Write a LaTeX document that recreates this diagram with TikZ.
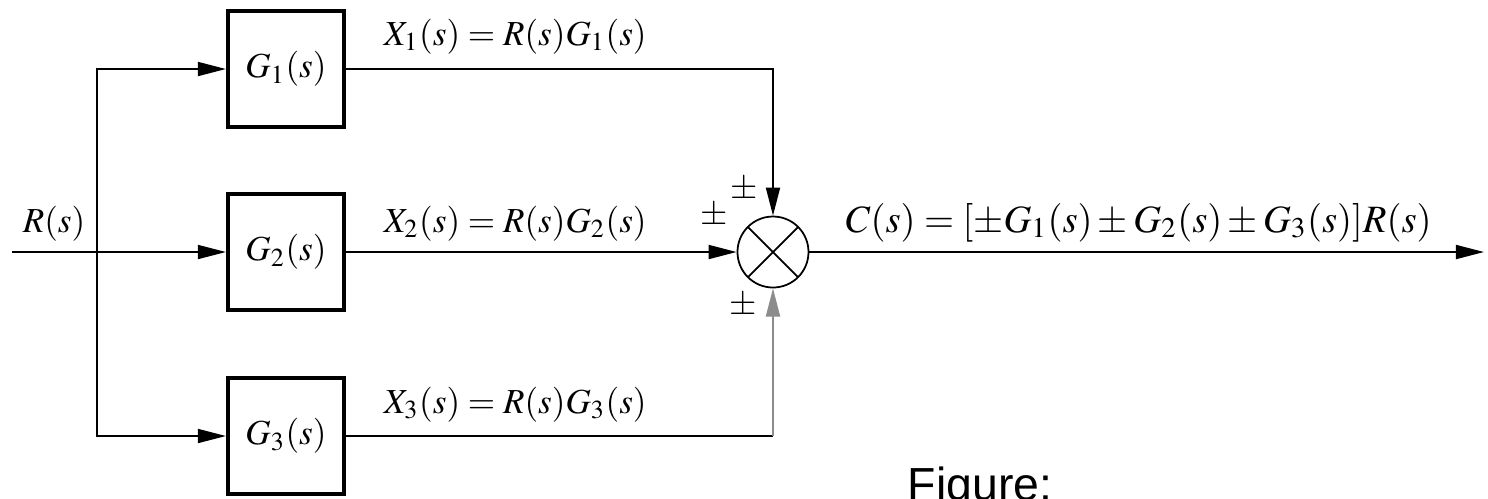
\documentclass[tikz,border=0pt]{standalone}
\usepackage{mathptmx}
\usepackage{fontspec}
\newfontfamily\figfont{Liberation Sans}
\usetikzlibrary{arrows.meta}
\begin{document}
\begin{tikzpicture}[line width=0.5pt, >={Triangle[length=8pt,width=4pt]},
  block/.style={draw, line width=1.2pt, minimum size=1.16cm, inner sep=0pt},
  sumjunc/.style={draw, circle, minimum size=0.71cm, inner sep=0pt,
    path picture={\draw (path picture bounding box.north west) -- (path picture bounding box.south east)
      (path picture bounding box.south west) -- (path picture bounding box.north east);}}]
\useasboundingbox (0,0) rectangle (14.88,-4.98);
% Blocks
\node[block] (g1) at (2.86,-0.69) {$G_1(s)$};
\node[block] (g2) at (2.86,-2.52) {$G_2(s)$};
\node[block] (g3) at (2.86,-4.36) {$G_3(s)$};
\node[sumjunc] (sum) at (7.73,-2.52) {};
\coordinate (in) at (0.12,-2.52);
\coordinate (br) at (0.97,-2.52);
\coordinate (out) at (14.84,-2.52);
\coordinate (c3) at (g3 -| sum);

% Connections
\draw[->] (in) -- (g2);
\draw[->] (br) |- (g1);
\draw[->] (br) |- (g3);
\draw[->] (g1) -| (sum);
\draw[->] (g2) -- (sum);
\draw (g3) -- (c3);
\draw[->, black!45] (c3) -- (sum);
\draw[->] (sum) -- (out);

% Labels
\node[anchor=base] (rlab) at (0.54,-2.32) {$R(s)$};
\node[anchor=base west, inner sep=0pt] (x1lab) at (3.83,-0.45) {$X_1(s) = R(s)G_1(s)$};
\node[anchor=base west, inner sep=0pt] (x2lab) at (3.83,-2.32) {$X_2(s) = R(s)G_2(s)$};
\node[anchor=base west, inner sep=0pt] (x3lab) at (3.83,-4.13) {$X_3(s) = R(s)G_3(s)$};
\node[anchor=base west, inner sep=0pt, font=\fontsize{11}{13}\selectfont] (clab) at (8.45,-2.32) {$C(s) = [\pm G_1(s) \pm G_2(s) \pm G_3(s)]R(s)$};
\node (pm1) at (7.44,-1.90) {$\pm$};
\node (pm2) at (7.14,-2.16) {$\pm$};
\node (pm3) at (7.43,-3.06) {$\pm$};
\node[anchor=base west, inner sep=0pt, font=\figfont\fontsize{13.2}{15}\selectfont] (cap) at (9.07,-5.00) {Figure:};
\end{tikzpicture}
\end{document}
